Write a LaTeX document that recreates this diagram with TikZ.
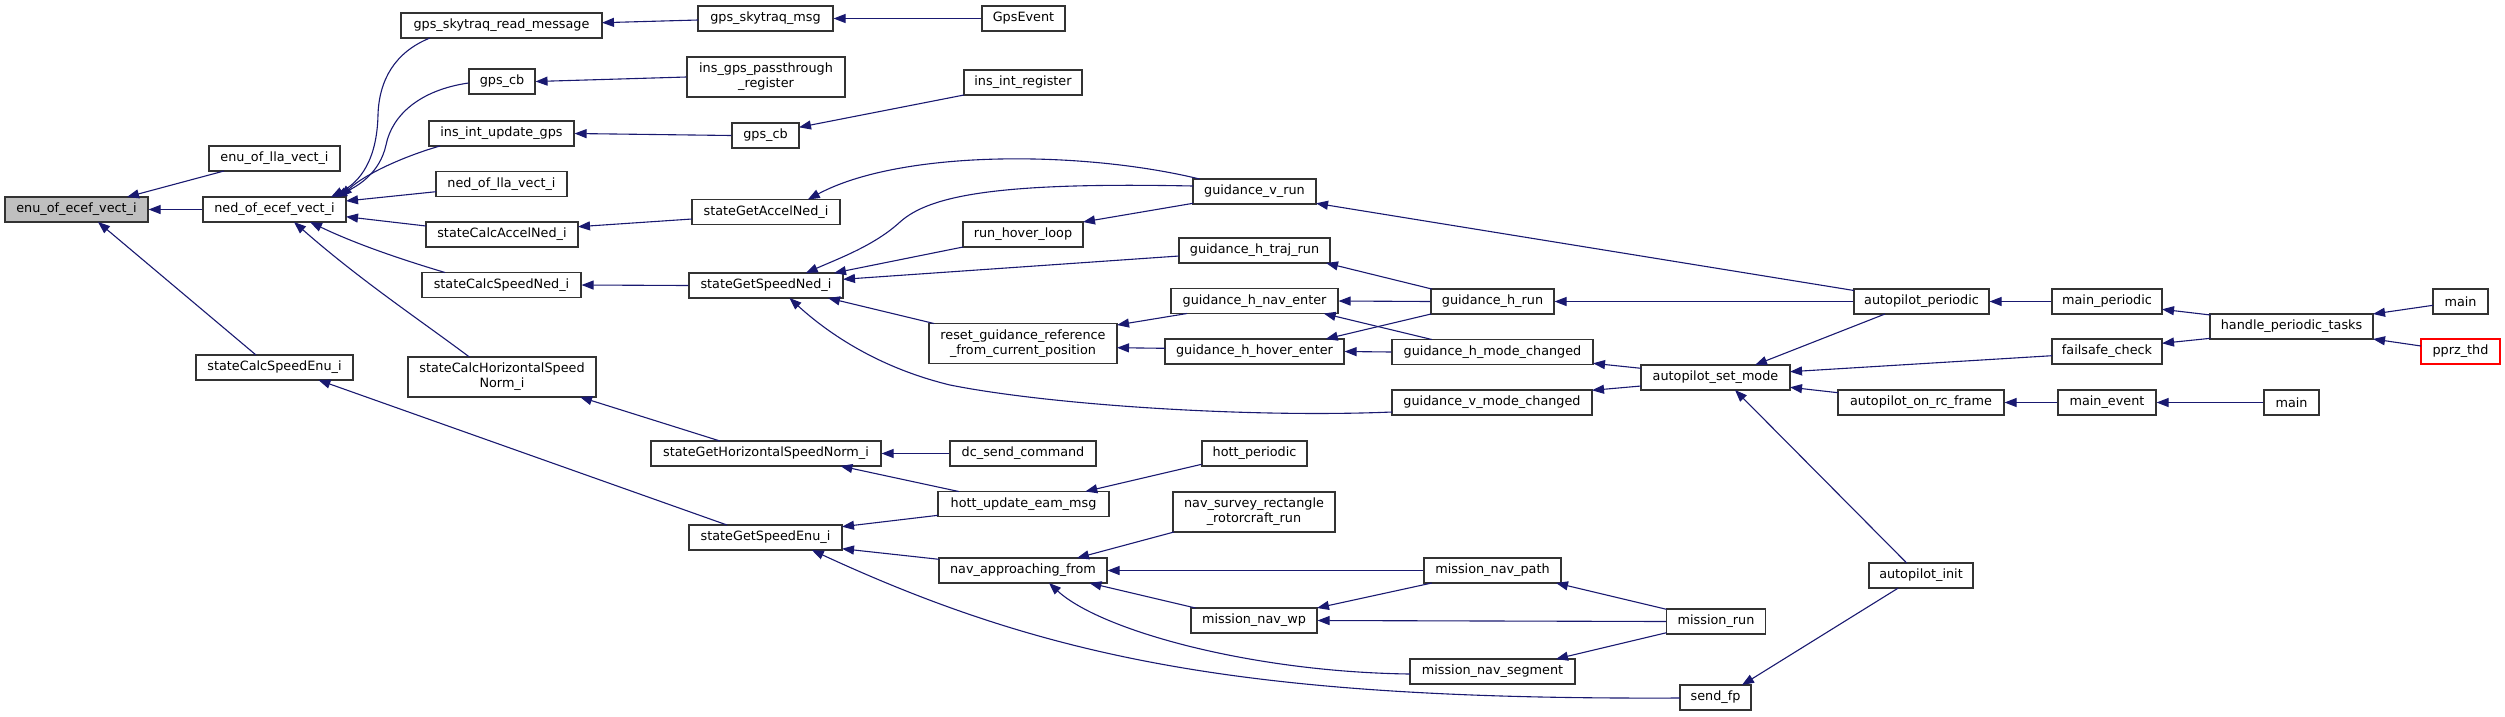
\documentclass[tikz,border=0pt]{standalone}
\usepackage{fontspec}
\setmainfont{DejaVu Sans}
\usetikzlibrary{arrows.meta,calc}
\definecolor{edgec}{HTML}{191970}
\definecolor{boxc}{HTML}{333333}
\newcommand\mkfn[5]{\node[fnbox,minimum width=#4pt] (#1) at (#2,#3) {#5};}
\newcommand\mkfnn[5]{\node[fnbox,minimum width=#4pt,minimum height=40pt] (#1) at (#2,#3) {#5};}
\begin{document}
\begin{tikzpicture}[x=1pt,y=-1pt,
  fnbox/.style={draw=boxc, line width=1.1pt, fill=white, inner sep=0pt, minimum height=25pt, align=center, font=\fontsize{12.8}{15}\selectfont},
  edge/.style={draw=edgec, line width=1.1pt, -{Triangle[length=12pt,width=9pt]}}]
\useasboundingbox (0,0) rectangle (2505,716);
% nodes
\node[fnbox,fill=black!25,minimum width=143pt] (enuecef) at (76.5,209.5) {enu\_of\_ecef\_vect\_i};
\mkfn{enulla}{274.5}{158.5}{131}{enu\_of\_lla\_vect\_i}
\mkfn{nedecef}{274.5}{209.5}{143}{ned\_of\_ecef\_vect\_i}
\mkfn{calcspeedenu}{274.5}{367.5}{157}{stateCalcSpeedEnu\_i}
\mkfn{skyread}{501.5}{25.5}{201}{gps\_skytraq\_read\_message}
\mkfn{gpscbA}{502}{81.5}{66}{gps\_cb}
\mkfn{insupd}{501.5}{133.5}{145}{ins\_int\_update\_gps}
\mkfn{nedlla}{501.5}{184}{131}{ned\_of\_lla\_vect\_i}
\mkfn{calcaccelned}{502}{234.5}{152}{stateCalcAccelNed\_i}
\mkfn{calcspeedned}{501.5}{285}{159}{stateCalcSpeedNed\_i}
\mkfnn{calchsn}{502}{377}{188}{stateCalcHorizontalSpeed\\Norm\_i}
\mkfn{skymsg}{765.5}{18.5}{135}{gps\_skytraq\_msg}
\mkfnn{passthru}{766}{77}{158}{ins\_gps\_passthrough\\\_register}
\mkfn{gpscbB}{765.5}{135.5}{67}{gps\_cb}
\mkfn{getaccelned}{766}{212}{148}{stateGetAccelNed\_i}
\mkfn{getspeedned}{766}{285.5}{154}{stateGetSpeedNed\_i}
\mkfn{gethsn}{766}{453.5}{230}{stateGetHorizontalSpeedNorm\_i}
\mkfn{getspeedenu}{765.5}{537.5}{153}{stateGetSpeedEnu\_i}
\mkfn{gpsevent}{1023.5}{18.5}{83}{GpsEvent}
\mkfn{insreg}{1023}{82.5}{118}{ins\_int\_register}
\mkfn{hover}{1023}{234.5}{120}{run\_hover\_loop}
\mkfnn{reset}{1023}{343.5}{188}{reset\_guidance\_reference\\\_from\_current\_position}
\mkfn{dcsend}{1023}{453.5}{146}{dc\_send\_command}
\mkfn{hottupd}{1023.5}{504}{171}{hott\_update\_eam\_msg}
\mkfn{navapp}{1023}{570.5}{168}{nav\_approaching\_from}
\mkfn{gvrun}{1254.5}{191.5}{123}{guidance\_v\_run}
\mkfn{ghtraj}{1254.5}{250.5}{151}{guidance\_h\_traj\_run}
\mkfn{ghnav}{1254.5}{301}{167}{guidance\_h\_nav\_enter}
\mkfn{ghhover}{1254.5}{351.5}{179}{guidance\_h\_hover\_enter}
\mkfn{hottper}{1254.5}{453.5}{105}{hott\_periodic}
\mkfnn{navsurvey}{1254}{512}{162}{nav\_survey\_rectangle\\\_rotorcraft\_run}
\mkfn{mnavwp}{1254}{620.5}{126}{mission\_nav\_wp}
\mkfn{ghrun}{1492.5}{301.5}{123}{guidance\_h\_run}
\mkfn{ghmode}{1492.5}{352}{201}{guidance\_h\_mode\_changed}
\mkfn{gvmode}{1492}{402.5}{200}{guidance\_v\_mode\_changed}
\mkfn{mnavpath}{1492.5}{570.5}{137}{mission\_nav\_path}
\mkfn{mnavseg}{1492.5}{671.5}{165}{mission\_nav\_segment}
\mkfn{apsetmode}{1715.5}{377.5}{149}{autopilot\_set\_mode}
\mkfn{mrun}{1716}{621.5}{99}{mission\_run}
\mkfn{sendfp}{1715.5}{697.5}{71}{send\_fp}
\mkfn{apper}{1921.5}{301.5}{135}{autopilot\_periodic}
\mkfn{aprc}{1921}{402.5}{166}{autopilot\_on\_rc\_frame}
\mkfn{apinit}{1921}{575.5}{104}{autopilot\_init}
\mkfn{mainper}{2107}{301.5}{110}{main\_periodic}
\mkfn{failsafe}{2107}{351.5}{110}{failsafe\_check}
\mkfn{mainevent}{2107}{402.5}{98}{main\_event}
\mkfn{handle}{2291.5}{326.5}{163}{handle\_periodic\_tasks}
\mkfn{mainB}{2291.5}{402.5}{55}{main}
\mkfn{mainA}{2460.5}{301.5}{55}{main}
\node[fnbox,draw=red,minimum width=79pt] (pprz) at (2460.5,351.5) {pprz\_thd};
% edges
\draw[edge] ($(enulla)+(-50.5,12.5)$) -- ($(enuecef)+(50.5,-12.5)$);
\draw[edge] (nedecef.west) -- (enuecef.east);
\draw[edge] ($(calcspeedenu)+(-18.5,-12.5)$) -- ($(enuecef)+(21.5,12.5)$);
\draw[edge] ($(skyread)+(-71.5,12.5)$) .. controls (395,52) and (379,80) .. (378,115) .. controls (377,160) and (360,182) .. ($(nedecef)+(56.5,-12.5)$);
\draw[edge] ($(gpscbA)+(-33.5,1.5)$) .. controls (420,90) and (392,115) .. (386,145) .. controls (380,172) and (360,185) .. ($(nedecef)+(60.5,-12.5)$);
\draw[edge] ($(insupd)+(-61.5,12.5)$) .. controls (415,153) and (370,170) .. ($(nedecef)+(65.5,-12.5)$);
\draw[edge] ($(nedlla)+(-65.5,7.7)$) -- ($(nedecef)+(71.5,-8.5)$);
\draw[edge] ($(calcaccelned)+(-76,-8.5)$) -- ($(nedecef)+(71.5,7.2)$);
\draw[edge] ($(calcspeedned)+(-56.5,-12.5)$) .. controls (410,262) and (360,246) .. ($(nedecef)+(35.5,12.5)$);
\draw[edge] ($(calchsn)+(-32.6,-20)$) .. controls (420,320) and (360,280) .. ($(nedecef)+(19.5,12.5)$);
\draw[edge] ($(skymsg)+(-67.5,1.5)$) -- ($(skyread)+(100.5,-2.8)$);
\draw[edge] (gpsevent.west) -- (skymsg.east);
\draw[edge] (passthru.west) -- (gpscbA.east);
\draw[edge] (gpscbB.west) -- (insupd.east);
\draw[edge] ($(insreg)+(-59,12.5)$) -- ($(gpscbB)+(33.5,-8.2)$);
\draw[edge] ($(getaccelned)+(-74,7)$) -- ($(calcaccelned)+(76,-7.8)$);
\draw[edge] (getspeedned.west) -- (calcspeedned.east);
\draw[edge] ($(gvrun)+(-54.9,-12.5)$) .. controls (1080,150) and (900,150) .. ($(getaccelned)+(41.8,-12.5)$);
\draw[edge] ($(gvrun)+(-61.5,-5.5)$) .. controls (1000,182) and (930,195) .. (900,222) .. controls (875,245) and (840,258) .. ($(getspeedned)+(39.7,-12.5)$);
\draw[edge] ($(hover)+(-60,12.5)$) -- ($(getspeedned)+(68,-12.5)$);
\draw[edge] ($(ghtraj)+(-75.5,5.5)$) -- ($(getspeedned)+(77,-6.2)$);
\draw[edge] ($(reset)+(-89,-20)$) -- ($(getspeedned)+(62,12.5)$);
\draw[edge] ($(gvmode)+(-100,9.5)$) .. controls (1250,418) and (1050,405) .. (950,385) .. controls (880,368) and (830,335) .. ($(getspeedned)+(23.4,12.5)$);
\draw[edge] ($(gvrun)+(-61.5,11.8)$) -- ($(hover)+(60,-12.5)$);
\draw[edge] ($(ghnav)+(-67.5,12.5)$) -- ($(reset)+(94,-18.5)$);
\draw[edge] ($(ghhover)+(-89.5,-3.2)$) -- ($(reset)+(94,4.2)$);
\draw[edge] ($(ghrun)+(-60.7,-12.5)$) -- ($(ghtraj)+(71.5,12.5)$);
\draw[edge] (ghrun.west) -- (ghnav.east);
\draw[edge] ($(ghrun)+(-61.5,12.5)$) -- ($(ghhover)+(71.2,-12.5)$);
\draw[edge] ($(ghmode)+(-60.7,-12.5)$) -- ($(ghnav)+(69.2,12.5)$);
\draw[edge] (ghmode.west) -- (ghhover.east);
\draw[edge] ($(apper)+(-67.5,-11)$) -- ($(gvrun)+(61.5,11.8)$);
\draw[edge] (apper.west) -- (ghrun.east);
\draw[edge] ($(apper)+(-36.5,12.5)$) -- ($(apsetmode)+(39.5,-12.5)$);
\draw[edge] ($(apsetmode)+(-74.5,-9.2)$) -- ($(ghmode)+(100.5,11.3)$);
\draw[edge] ($(apsetmode)+(-74.5,8.5)$) -- ($(gvmode)+(100,-12.2)$);
\draw[edge] ($(failsafe)+(-55,4.2)$) -- ($(apsetmode)+(74.5,-5.8)$);
\draw[edge] ($(aprc)+(-83,-9.8)$) -- ($(apsetmode)+(74.5,9.8)$);
\draw[edge] ($(apinit)+(-14.3,-12.5)$) -- ($(apsetmode)+(19.5,12.5)$);
\draw[edge] ($(apinit)+(-22.7,12.5)$) -- ($(sendfp)+(26.5,-12.5)$);
\draw[edge] ($(mrun)+(-49.5,-12.2)$) -- ($(mnavpath)+(63.5,12.5)$);
\draw[edge] (mrun.west) -- (mnavwp.east);
\draw[edge] ($(mrun)+(-49.5,11.2)$) -- ($(mnavseg)+(63.5,-12.5)$);
\draw[edge] ($(mnavpath)+(-60.7,12.5)$) -- ($(mnavwp)+(63,-12.5)$);
\draw[edge] (mnavpath.west) -- (navapp.east);
\draw[edge] ($(mnavseg)+(-82.5,2.5)$) .. controls (1250,672) and (1100,630) .. ($(navapp)+(26,12.5)$);
\draw[edge] ($(sendfp)+(-35.5,0.5)$) .. controls (1250,700) and (1050,660) .. ($(getspeedenu)+(46.3,12.5)$);
\draw[edge] ($(gethsn)+(-46,-12.5)$) -- ($(calchsn)+(78,20)$);
\draw[edge] (dcsend.west) -- (gethsn.east);
\draw[edge] ($(hottupd)+(-64.7,-12.5)$) -- ($(gethsn)+(74.4,12.5)$);
\draw[edge] ($(hottupd)+(-85.5,11.3)$) -- ($(getspeedenu)+(76.5,-10.8)$);
\draw[edge] ($(hottper)+(-52.9,10.8)$) -- ($(hottupd)+(61.8,-12.5)$);
\draw[edge] ($(getspeedenu)+(-38.5,-12.5)$) -- ($(calcspeedenu)+(43.9,12.5)$);
\draw[edge] ($(navapp)+(-84,-11.2)$) -- ($(getspeedenu)+(76.5,11.2)$);
\draw[edge] ($(navsurvey)+(-80,20)$) -- ($(navapp)+(54,-12.5)$);
\draw[edge] ($(mnavwp)+(-58.5,-12.5)$) -- ($(navapp)+(66.4,12.5)$);
\draw[edge] (mainper.west) -- (apper.east);
\draw[edge] ($(handle)+(-81,-11.5)$) -- ($(mainper)+(55,7.8)$);
\draw[edge] ($(handle)+(-81,11.8)$) -- ($(failsafe)+(55,-8.2)$);
\draw[edge] ($(mainA)+(-27.5,3.8)$) -- ($(handle)+(81.5,-12.5)$);
\draw[edge] ($(pprz)+(-39.5,-5.5)$) -- ($(handle)+(81.5,12.5)$);
\draw[edge] (mainevent.west) -- (aprc.east);
\draw[edge] (mainB.west) -- (mainevent.east);
\end{tikzpicture}
\end{document}
